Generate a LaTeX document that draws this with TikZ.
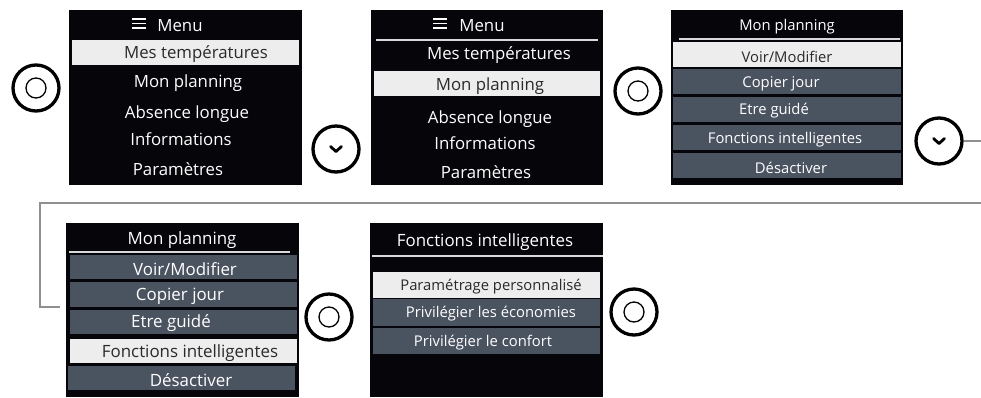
\documentclass[tikz,border=0pt]{standalone}
\usepackage{fontspec}
\setmainfont{Open Sans}
\definecolor{scrbg}{HTML}{05050A}
\definecolor{hlgray}{HTML}{EDEDEE}
\definecolor{slate}{HTML}{4A5360}
\definecolor{darktxt}{HTML}{2A2A2A}
\definecolor{conngray}{HTML}{909090}
\begin{document}
\begin{tikzpicture}[x=1pt,y=-1pt,
  scr/.style={fill=scrbg,draw=none,anchor=north west,inner sep=0},
  hlbar/.style={fill=hlgray,draw=none,anchor=north west,inner sep=0},
  slbar/.style={fill=slate,draw=none,anchor=north west,inner sep=0},
  big/.style={font=\fontsize{16.8}{19}\selectfont,inner sep=0,yshift=-2pt},
  mid/.style={font=\fontsize{14.8}{17}\selectfont,inner sep=0,yshift=-2pt},
  lrg/.style={font=\fontsize{16.9}{19}\selectfont,inner sep=0,yshift=-2pt},
  sml/.style={font=\fontsize{14.8}{17}\selectfont,inner sep=0,yshift=-2pt},
  wt/.style={text=white},
  dk/.style={text=darktxt},
  sep/.style={draw=white!85!black,line width=1.2pt},
  btn/.style={circle,draw=black,line width=3.3pt,minimum size=46pt,inner sep=0},
  ring/.style={draw=black,line width=1.3pt},
  chev/.style={draw=black,line width=2.8pt,line cap=round,line join=round},
  conn/.style={draw=conngray,line width=1.8pt},
  burger/.style={draw=white,line width=1.7pt}
]
\useasboundingbox (0,0) rectangle (981,397);

% ---------- screen 1 ----------
\node[scr,minimum width=233pt,minimum height=175pt] (s1) at (69,10) {};
\draw[burger] (132,19) -- (146,19) (132,23.5) -- (146,23.5) (132,28) -- (146,28);
\node[big,wt] (s1t) at (180,24) {Menu};
\node[hlbar,minimum width=227pt,minimum height=25pt] (s1h) at (72,40) {};
\node[big,dk] (s1a) at (196,52) {Mes températures};
\node[big,wt] (s1b) at (188,81) {Mon planning};
\node[big,wt] (s1c) at (187,112) {Absence longue};
\node[big,wt] (s1d) at (181,137) {Informations};
\node[big,wt] (s1e) at (178,167) {Paramètres};

% ---------- screen 2 ----------
\node[scr,minimum width=232pt,minimum height=175pt] (s2) at (371,10) {};
\draw[burger] (433,19) -- (447,19) (433,23.5) -- (447,23.5) (433,28) -- (447,28);
\node[big,wt] (s2t) at (482,24) {Menu};
\draw[sep] (376,40) -- (598,40);
\node[hlbar,minimum width=226pt,minimum height=25pt] (s2h) at (374,71) {};
\node[big,wt] (s2a) at (499,53) {Mes températures};
\node[big,dk] (s2b) at (490,84) {Mon planning};
\node[big,wt] (s2c) at (490,117) {Absence longue};
\node[big,wt] (s2d) at (485,141) {Informations};
\node[big,wt] (s2e) at (486,170) {Paramètres};

% ---------- screen 3 ----------
\node[scr,minimum width=232pt,minimum height=175pt] (s3) at (671,10) {};
\node[mid,wt] (s3t) at (787,25) {Mon planning};
\draw[sep] (679,39) -- (900,39);
\node[hlbar,minimum width=228pt,minimum height=25pt] (s3h1) at (673,42) {};
\node[slbar,minimum width=228pt,minimum height=25pt] (s3h2) at (673,69) {};
\node[slbar,minimum width=228pt,minimum height=25pt] (s3h3) at (673,97) {};
\node[slbar,minimum width=228pt,minimum height=25pt] (s3h4) at (673,125) {};
\node[slbar,minimum width=228pt,minimum height=25pt] (s3h5) at (673,153) {};
\node[mid,dk] (s3a) at (787,55) {Voir/Modifier};
\node[mid,wt] (s3b) at (781,82) {Copier jour};
\node[mid,wt] (s3c) at (774,109) {Etre guidé};
\node[mid,wt] (s3d) at (785,138) {Fonctions intelligentes};
\node[mid,wt] (s3e) at (791,166) {Désactiver};

% ---------- screen 4 ----------
\node[scr,minimum width=233pt,minimum height=174pt] (s4) at (66,223) {};
\node[lrg,wt] (s4t) at (182,238) {Mon planning};
\draw[sep] (69,252) -- (290,252);
\node[slbar,minimum width=227pt,minimum height=24pt] (s4h1) at (70,255) {};
\node[slbar,minimum width=227pt,minimum height=25pt] (s4h2) at (70,282) {};
\node[slbar,minimum width=227pt,minimum height=24pt] (s4h3) at (70,310) {};
\node[hlbar,minimum width=227pt,minimum height=24pt] (s4h4) at (70,339) {};
\node[slbar,minimum width=227pt,minimum height=24pt] (s4h5) at (68,366) {};
\node[lrg,wt] (s4a) at (185,267) {Voir/Modifier};
\node[lrg,wt] (s4b) at (180,294) {Copier jour};
\node[lrg,wt] (s4c) at (171,321) {Etre guidé};
\node[lrg,dk] (s4d) at (190,351) {Fonctions intelligentes};
\node[lrg,wt] (s4e) at (191,378) {Désactiver};

% ---------- screen 5 ----------
\node[scr,minimum width=233pt,minimum height=174pt] (s5) at (370,223) {};
\node[lrg,wt] (s5t) at (485,240) {Fonctions intelligentes};
\draw[sep] (372,256) -- (603,256);
\node[hlbar,minimum width=227pt,minimum height=26pt] (s5h1) at (373,272) {};
\node[slbar,minimum width=227pt,minimum height=27pt] (s5h2) at (373,299) {};
\node[slbar,minimum width=227pt,minimum height=26pt] (s5h3) at (373,328) {};
\node[sml,dk] (s5a) at (491,285) {Paramétrage personnalisé};
\node[sml,wt] (s5b) at (491,312) {Privilégier les économies};
\node[sml,wt] (s5c) at (483,341) {Privilégier le confort};

% ---------- buttons ----------
\node[btn] (b1) at (36,88) {};
\draw[ring] (b1.center) circle (10pt);
\node[btn] (b2) at (336,149) {};
\draw[chev,shift={(b2.center)}] (-5.5,-2.5) -- (0,2.5) -- (5.5,-2.5);
\node[btn] (b3) at (638,91) {};
\draw[ring] (b3.center) circle (10pt);
\node[btn] (b4) at (939,141) {};
\draw[chev,shift={(b4.center)}] (-5.5,-2.5) -- (0,2.5) -- (5.5,-2.5);
\node[btn] (b5) at (329,317) {};
\draw[ring] (b5.center) circle (10pt);
\node[btn] (b6) at (634,312) {};
\draw[ring] (b6.center) circle (10pt);

% ---------- connector ----------
\coordinate (cend) at (60,307);
\begin{scope}
\clip (0,0) rectangle (981,397);
\draw[conn] (b4.east) -- (990,141) -- (990,203) -- (40,203) -- (40,307) -- (cend);
\end{scope}
\end{tikzpicture}
\end{document}
